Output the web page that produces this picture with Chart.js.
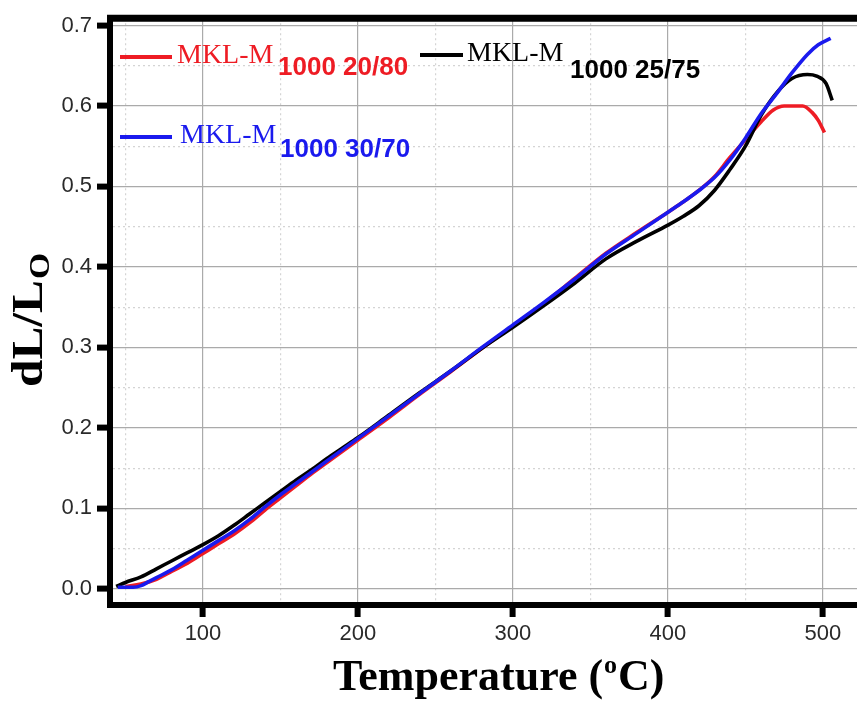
<!DOCTYPE html>
<html>
<head>
<meta charset="utf-8">
<script src="https://cdn.jsdelivr.net/npm/chart.js@4.4.0/dist/chart.umd.min.js"></script>
<style>
html, body { margin: 0; padding: 0; background: #fff; overflow: hidden; }
#wrap { width: 857px; height: 707px; }
</style>
</head>
<body>
<div id="wrap"><canvas id="c"></canvas></div>
<script>
// series: temperature (oC) and dL/Lo
const tempRed = [50, 60, 70, 80, 90, 100, 110, 120, 130, 140, 150, 160, 170, 180, 190, 200, 220, 240, 260, 280, 300, 320, 340, 360, 380, 400, 410, 420, 430, 440, 450, 460, 468, 475, 487, 493, 497, 501];
const valRed = [0.003, 0.006, 0.012, 0.022, 0.032, 0.044, 0.056, 0.068, 0.082, 0.098, 0.113, 0.128, 0.143, 0.157, 0.171, 0.185, 0.213, 0.242, 0.270, 0.299, 0.327, 0.355, 0.386, 0.417, 0.443, 0.468, 0.481, 0.495, 0.512, 0.536, 0.558, 0.580, 0.595, 0.600, 0.600, 0.592, 0.582, 0.567];

const tempBlack = [44, 50, 60, 70, 80, 90, 100, 110, 120, 130, 140, 150, 160, 170, 180, 190, 200, 220, 240, 260, 280, 300, 320, 340, 360, 380, 400, 410, 420, 430, 440, 450, 460, 470, 480, 490, 496, 502, 506];
const valBlack = [0.003, 0.008, 0.015, 0.025, 0.035, 0.045, 0.055, 0.066, 0.079, 0.093, 0.107, 0.121, 0.135, 0.148, 0.162, 0.175, 0.188, 0.216, 0.244, 0.271, 0.299, 0.325, 0.352, 0.380, 0.410, 0.432, 0.452, 0.463, 0.476, 0.495, 0.521, 0.550, 0.588, 0.616, 0.634, 0.639, 0.637, 0.628, 0.607];

const tempBlue = [45, 50, 55, 60, 65, 70, 80, 90, 100, 110, 120, 130, 140, 150, 160, 170, 180, 190, 200, 220, 240, 260, 280, 300, 320, 340, 360, 380, 400, 410, 420, 430, 440, 450, 460, 470, 480, 490, 497, 505];
const valBlue = [0.002, 0.002, 0.002, 0.004, 0.009, 0.014, 0.024, 0.036, 0.048, 0.060, 0.072, 0.086, 0.102, 0.117, 0.131, 0.145, 0.159, 0.173, 0.187, 0.215, 0.243, 0.271, 0.300, 0.328, 0.356, 0.385, 0.416, 0.442, 0.468, 0.481, 0.495, 0.511, 0.533, 0.560, 0.590, 0.615, 0.641, 0.664, 0.676, 0.684];

const seriesNames = ["MKL-M", "MKL-M", "MKL-M"];
const seriesSubs = ["1000 20/80", "1000 25/75", "1000 30/70"];
const xTicks = [50, 100, 150, 200, 250, 300, 350, 400, 450, 500];
const yTicks = [0, 0.05, 0.1, 0.15, 0.2, 0.25, 0.3, 0.35, 0.4, 0.45, 0.5, 0.55, 0.6, 0.65, 0.7];

const colors = ["#ee1c24", "#000000", "#1a1aee"];

function pairs(xs, ys) {
    return xs.map((x, i) => ({ x: x, y: ys[i] }));
}

function isMajor(v, step) {
    const r = v / step;
    return Math.abs(r - Math.round(r)) < 1e-6;
}

// legend spots and text
const legendSpots = [
    { lx: 120, lx2: 172, ly: 57, tx: 177, tb: 63, sx: 278, sb: 75 },
    { lx: 420, lx2: 463, ly: 55, tx: 467, tb: 61, sx: 570, sb: 78 },
    { lx: 120, lx2: 172, ly: 137, tx: 180, tb: 143, sx: 280, sb: 157 }
];

const decor = {
    id: "decor",
    afterDraw(chart) {
        const ctx = chart.ctx;
        const a = chart.chartArea;
        ctx.save();

        // top frame
        ctx.strokeStyle = "#000";
        ctx.lineWidth = 7;
        ctx.beginPath();
        ctx.moveTo(a.left - 3, a.top);
        ctx.lineTo(a.right, a.top);
        ctx.stroke();

        // legend
        ctx.textBaseline = "alphabetic";
        ctx.textAlign = "left";
        chart.data.datasets.forEach(ds => {
            const s = legendSpots[ds.legendIndex];
            ctx.strokeStyle = ds.borderColor;
            ctx.lineWidth = 4;
            ctx.beginPath();
            ctx.moveTo(s.lx, s.ly);
            ctx.lineTo(s.lx2, s.ly);
            ctx.stroke();
            ctx.fillStyle = ds.borderColor;
            ctx.font = '28px "Liberation Serif", "DejaVu Serif", serif';
            ctx.fillText(seriesNames[ds.legendIndex], s.tx, s.tb);
            ctx.font = 'bold 26px "Liberation Sans", Arial, sans-serif';
            ctx.fillText(seriesSubs[ds.legendIndex], s.sx, s.sb);
        });

        // x title
        ctx.fillStyle = "#000";
        let x = 333;
        const base = 690;
        ctx.font = 'bold 44px "Liberation Serif", "DejaVu Serif", serif';
        ctx.fillText("Temperature (", x, base);
        x += ctx.measureText("Temperature (").width;
        ctx.font = 'bold 26px "Liberation Serif", "DejaVu Serif", serif';
        ctx.fillText("o", x + 1, base - 17);
        x += ctx.measureText("o").width + 2;
        ctx.font = 'bold 44px "Liberation Serif", "DejaVu Serif", serif';
        ctx.fillText("C)", x, base);

        // y title, rotated
        ctx.save();
        ctx.translate(42, 387);
        ctx.rotate(-Math.PI / 2);
        ctx.scale(1.12, 1);
        ctx.font = 'bold 44px "Liberation Serif", "DejaVu Serif", serif';
        ctx.fillText("dL/L", 0, 0);
        const w = ctx.measureText("dL/L").width;
        ctx.font = 'bold 30px "Liberation Serif", "DejaVu Serif", serif';
        ctx.fillText("O", w + 1, 7);
        ctx.restore();

        ctx.restore();
    }
};

const ctx = document.getElementById("c").getContext("2d");
new Chart(ctx, {
    type: "line",
    data: {
        datasets: [
            { label: seriesNames[2] + " " + seriesSubs[2], legendIndex: 2, data: pairs(tempBlue, valBlue), borderColor: colors[2], order: 0 },
            { label: seriesNames[1] + " " + seriesSubs[1], legendIndex: 1, data: pairs(tempBlack, valBlack), borderColor: colors[1], order: 1 },
            { label: seriesNames[0] + " " + seriesSubs[0], legendIndex: 0, data: pairs(tempRed, valRed), borderColor: colors[0], order: 2 }
        ].map(d => Object.assign(d, {
            borderWidth: 3.6,
            pointRadius: 0,
            fill: false,
            cubicInterpolationMode: "monotone"
        }))
    },
    options: {
        responsive: true,
        maintainAspectRatio: false,
        animation: false,
        layout: { padding: { top: 15, right: 0, left: 0, bottom: 0 } },
        plugins: {
            legend: { display: false },
            tooltip: { enabled: false }
        },
        scales: {
            x: {
                type: "linear",
                min: 40,
                max: 522,
                afterBuildTicks: s => { s.ticks = xTicks.map(v => ({ value: v })); },
                afterFit: s => { s.height = 102; },
                ticks: {
                    autoSkip: false,
                    maxRotation: 0,
                    padding: 4,
                    color: "#2a2a2a",
                    font: { family: '"Liberation Sans", Arial, sans-serif', size: 22 },
                    callback: v => isMajor(v, 100) ? String(v) : ""
                },
                grid: {
                    color: c => isMajor(c.tick.value, 100) ? "#aaaaaa" : "#d4d4d4",
                    lineWidth: 1.2,
                    drawTicks: true,
                    tickLength: 12,
                    tickWidth: 6,
                    tickColor: c => isMajor(c.tick.value, 100) ? "#000" : "rgba(0,0,0,0)"
                },
                border: {
                    color: "#000",
                    width: 6,
                    dash: c => isMajor(c.tick.value, 100) ? [] : [2, 3]
                }
            },
            y: {
                type: "linear",
                min: -0.02,
                max: 0.709,
                afterBuildTicks: s => { s.ticks = yTicks.map(v => ({ value: v })); },
                afterFit: s => { s.width = 110; },
                ticks: {
                    autoSkip: false,
                    padding: 5,
                    color: "#2a2a2a",
                    font: { family: '"Liberation Sans", Arial, sans-serif', size: 22 },
                    callback: v => isMajor(v, 0.1) ? v.toFixed(1) : ""
                },
                grid: {
                    color: c => isMajor(c.tick.value, 0.1) ? "#aaaaaa" : "#d4d4d4",
                    lineWidth: 1.2,
                    drawTicks: true,
                    tickLength: 13,
                    tickWidth: 6,
                    tickColor: c => isMajor(c.tick.value, 0.1) ? "#000" : "rgba(0,0,0,0)"
                },
                border: {
                    color: "#000",
                    width: 6,
                    dash: c => isMajor(c.tick.value, 0.1) ? [] : [2, 3]
                }
            }
        }
    },
    plugins: [decor]
});
</script>
</body>
</html>
